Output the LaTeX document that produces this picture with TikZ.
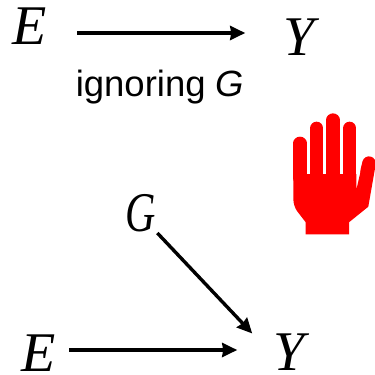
\documentclass[tikz,border=0pt]{standalone}
\usepackage{fontspec}
\setmainfont{Liberation Sans}
\newfontfamily\varfont{Liberation Serif}
\usetikzlibrary{arrows.meta}
\tikzset{
  var/.style={inner sep=0pt, font=\fontsize{56}{56}\selectfont\varfont\itshape},
  lbl/.style={inner sep=0pt, font=\fontsize{36.5}{36.5}\selectfont},
  arrow/.style={-{Stealth[length=15pt, width=14pt, inset=1pt]}, line width=3.4pt, draw=black},
  finger/.style={line width=13.3pt, line cap=round, draw=red},
}
\begin{document}
\begin{tikzpicture}[x=1pt, y=-1pt]
  \useasboundingbox (0,0) rectangle (375,375);

  \node[var] (etop) at (30,26) {E};
  \node[var] (ytop) at (299,37) {Y};
  \node[lbl] (ignore) at (160,87) {ignoring \textit{G}};

  \node[var, xscale=0.75] (gbot) at (141,213) {G};
  \node[var] (ebot) at (39,353) {E};
  \node[var] (ybot) at (289,352) {Y};

  % ---------------- top row ----------------
  \draw[arrow] ([xshift=30pt,yshift=-7pt]etop.east) -- ([xshift=-38pt,yshift=4pt]ytop.west);

  % ---------------- bottom triangle ----------------
  \draw[arrow] ([xshift=13pt,yshift=3pt]ebot.east) -- ([xshift=-36pt,yshift=2pt]ybot.west);
  \draw[arrow] ([xshift=1pt,yshift=-1pt]gbot.south east) -- ([xshift=-21pt,yshift=0pt]ybot.north west);

  % ---------------- hand ----------------
  \fill[red] (293.3,170) -- (293.3,198) .. controls (293.3,204) and (295,208) .. (297,211)
    -- (305.7,222.3) -- (305.7,234.3) -- (349,234.3) -- (349,222.3) -- (368.3,206.7)
    -- (375.6,165) -- (363.2,160) -- (356.3,190) -- (356.3,174) -- (293.3,174) -- cycle;
  \foreach \xtip/\ytip in {300/143.3, 316.7/128.3, 333/120, 349.7/128.3}
    \draw[finger] (\xtip,\ytip) -- (\xtip,178);
  \draw[finger] (369,163) -- (367,171);
\end{tikzpicture}
\end{document}
